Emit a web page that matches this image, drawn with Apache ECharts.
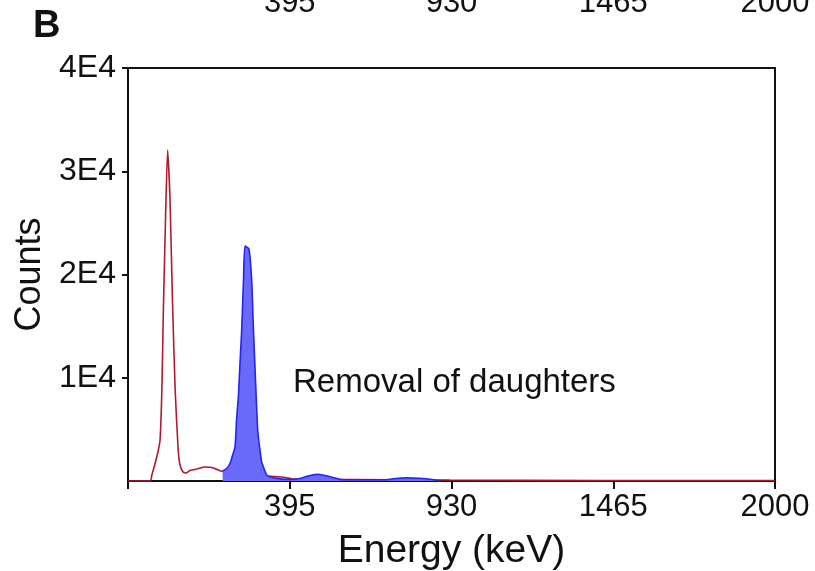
<!DOCTYPE html>
<html>
<head>
<meta charset="utf-8">
<script src="https://cdn.jsdelivr.net/npm/echarts@6/dist/echarts.min.js"></script>
<style>
  html, body { margin: 0; padding: 0; background: #fff; }
  #chart { width: 815px; height: 571px; }
</style>
</head>
<body>
<div id="chart"></div>
<script>
// spectrum before removal (red line), energy in keV and counts
const redEnergy = [-140, -67, -61, -51, -41, -34, -28, -23, -16, -9, -1, 7, 16, 26, 32, 42, 52, 65, 88, 115, 138, 158, 174, 200, 240, 280, 317, 346, 380, 403, 462, 595, 925, 1422, 2000];
const redCounts = [0, 0, 580, 1650, 2810, 3970, 8810, 16560, 25280, 32060, 27210, 17530, 8810, 3000, 1550, 870, 775, 1020, 1160, 1360, 1310, 1065, 920, 800, 700, 600, 485, 435, 340, 195, 145, 145, 100, 50, 50];

// spectrum after removal of daughters (blue filled)
const blueEnergy = [173, 187, 198, 204, 214, 219, 225, 231, 236, 242, 247, 260, 269, 275, 284, 289, 295, 302, 308, 319, 346, 396, 429, 456, 484, 512, 545, 571, 714, 744, 782, 826, 866, 883, 890];
const blueCounts = [970, 1230, 1740, 2320, 3320, 5910, 8160, 11720, 14620, 19470, 22760, 22470, 19470, 14620, 8160, 4940, 3320, 1840, 1360, 580, 290, 145, 240, 485, 650, 530, 290, 115, 115, 240, 310, 260, 145, 50, 0];

const xTicks = [-140, 395, 930, 1465, 2000];
const xLabels = [395, 930, 1465, 2000];
const yTicks = [10000, 20000, 30000, 40000];

const FONT = '"Liberation Sans", Arial, Helvetica, sans-serif';

const chart = echarts.init(document.getElementById('chart'), null, { renderer: 'canvas' });

const pair = (xs, ys) => xs.map((x, i) => [x, ys[i]]);

chart.setOption({
  animation: false,
  backgroundColor: '#fff',
  grid: {
    left: 128, right: 40, top: 68, bottom: 90,
    outerBoundsMode: 'none', containLabel: false,
    show: true, borderColor: '#111', borderWidth: 2, backgroundColor: 'transparent'
  },
  graphic: [
    { type: 'text', left: 33, top: 8, style: { text: 'B', font: 'bold 38px ' + FONT, fill: '#111' } },
    { type: 'text', left: 293, top: 366, style: { text: 'Removal of daughters', font: '33px ' + FONT, fill: '#111' } }
  ],
  xAxis: [
    {
      type: 'value', min: -140, max: 2000, position: 'bottom',
      name: 'Energy (keV)', nameLocation: 'middle', nameGap: 51,
      nameTextStyle: { fontFamily: FONT, fontSize: 39, color: '#111' },
      splitLine: { show: false },
      axisLine: { show: true, onZero: false, lineStyle: { color: '#111', width: 2 } },
      axisTick: { show: true, customValues: xTicks, length: 8, lineStyle: { color: '#111', width: 2 } },
      axisLabel: { customValues: xLabels, margin: 11, fontFamily: FONT, fontSize: 31, color: '#111', formatter: v => String(v) }
    },
    {
      // labels of the panel above, cut at the top edge
      type: 'value', min: -140, max: 2000, position: 'top', offset: 41,
      splitLine: { show: false },
      axisLine: { show: false, onZero: false },
      axisTick: { show: false },
      axisLabel: { customValues: xLabels, margin: 8, fontFamily: FONT, fontSize: 31, color: '#111', formatter: v => String(v) }
    }
  ],
  yAxis: {
    type: 'value', min: 0, max: 40000,
    name: 'Counts', nameLocation: 'middle', nameGap: 79, nameRotate: 90,
    nameTextStyle: { fontFamily: FONT, fontSize: 36, color: '#111' },
    splitLine: { show: false },
    axisLine: { show: true, onZero: false, lineStyle: { color: '#111', width: 2 } },
    axisTick: { show: true, customValues: yTicks, length: 6, lineStyle: { color: '#111', width: 2 } },
    axisLabel: {
      customValues: yTicks, margin: 12, fontFamily: FONT, fontSize: 32, color: '#111',
      formatter: v => (v / 10000) + 'E4'
    }
  },
  series: [
    {
      name: 'Before', type: 'line', data: pair(redEnergy, redCounts),
      showSymbol: false, smooth: 0.2, z: 2,
      lineStyle: { color: '#b01a2c', width: 1.6 }
    },
    {
      name: 'After', type: 'line', data: pair(blueEnergy, blueCounts),
      showSymbol: false, smooth: 0.2, z: 3,
      lineStyle: { color: '#2424f0', width: 1.6 },
      areaStyle: { color: '#6a6afa', opacity: 1 }
    }
  ]
});
</script>
</body>
</html>
